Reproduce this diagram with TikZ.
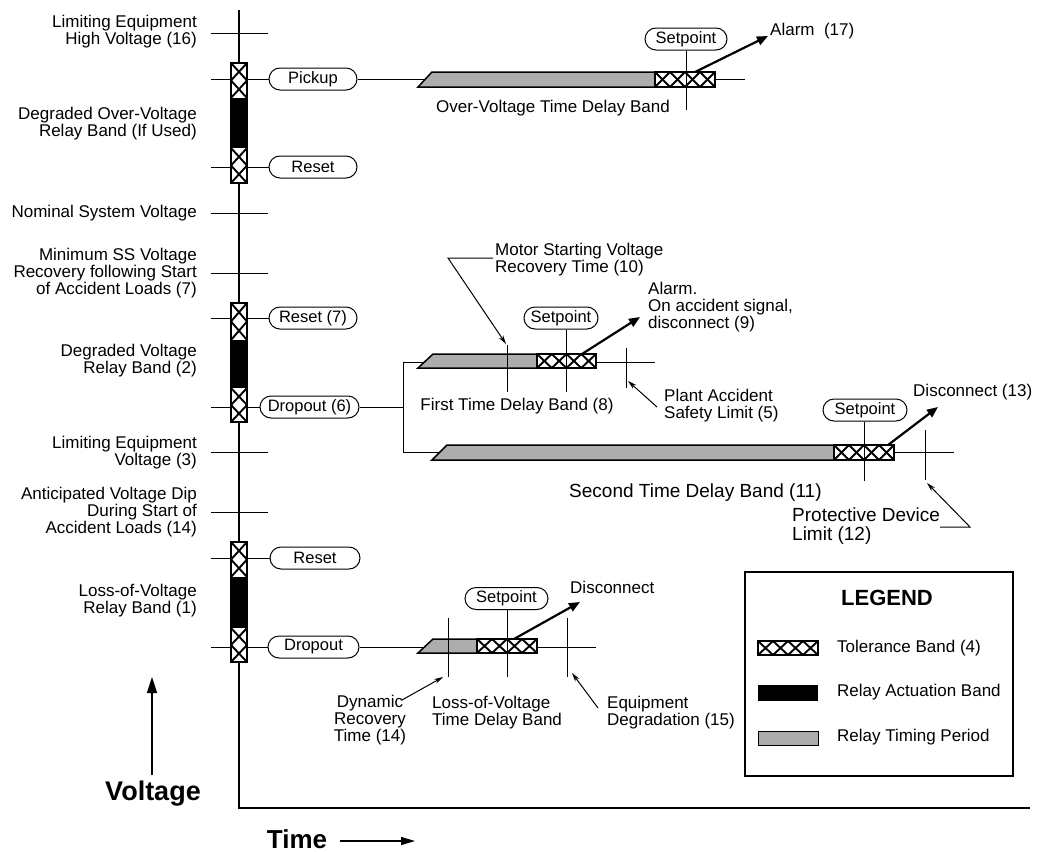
\documentclass[tikz,border=0pt]{standalone}
\usepackage{fontspec}
\setmainfont{Liberation Sans}
\usetikzlibrary{arrows.meta}
\newcommand\fs{\fontsize{17}{17}\selectfont}
\newcommand\fsb{\fontsize{19}{19}\selectfont}
\newcommand\fsp{\fontsize{16.5}{16.5}\selectfont}
% horizontal cross-hatch box: x0 y0 x1 y1 ncells
\newcommand\hxbox[5]{%
  \fill[white] (#1,#2) rectangle (#3,#4);
  \pgfmathsetmacro\hbcw{(#3-#1)/#5}
  \foreach \k in {1,...,#5}{%
    \draw[hatchline] ({#1+(\k-1)*\hbcw},#2) -- ({#1+\k*\hbcw},#4);
    \draw[hatchline] ({#1+(\k-1)*\hbcw},#4) -- ({#1+\k*\hbcw},#2);}
  \draw[barline] (#1,#2) rectangle (#3,#4);}
% vertical cross-hatch: x0 y0 x1 y1 ncells along y
\newcommand\vxbox[5]{%
  \fill[white] (#1,#2) rectangle (#3,#4);
  \pgfmathsetmacro\hbch{(#4-#2)/#5}
  \foreach \k in {1,...,#5}{%
    \draw[hatchline] (#1,{#2+(\k-1)*\hbch}) -- (#3,{#2+\k*\hbch});
    \draw[hatchline] (#3,{#2+(\k-1)*\hbch}) -- (#1,{#2+\k*\hbch});}}
\begin{document}
\begin{tikzpicture}[x=1pt,y=-1pt,
  hatchline/.style={line width=1.9pt},
  barline/.style={line width=1.5pt},
  thin/.style={line width=1pt},
  pill/.style={draw,line width=1pt,rounded corners=11pt,minimum height=22pt,inner xsep=6pt,inner ysep=0pt,font=\fsp},
  lbl/.style={align=right,anchor=east,inner sep=0pt,font=\fs},
  txt/.style={align=left,anchor=west,inner sep=0pt,font=\fs},
  bigarrow/.style={line width=2.2pt,-{Triangle[length=11pt,width=9pt]}},
  leader/.style={line width=1pt,-{Stealth[length=9pt,width=5pt]}},
  timing/.style={fill=black!32,draw=black,line width=1.5pt}]
\useasboundingbox (0,0) rectangle (1037,852);

% axes
\coordinate (atop) at (239,10);
\coordinate (aorg) at (239,808);
\coordinate (aend) at (1030,808);
\draw[line width=2pt] (atop) -- (aorg) -- (aend);

% axis ticks
\foreach \yy in {33,213,273,452,512}{\draw[thin] (211,\yy) -- (268,\yy);}

% left labels
\node[lbl] (l16) at (197,32) {Limiting Equipment\\High Voltage (16)};
\node[lbl] (lov) at (197,124) {Degraded Over-Voltage\\Relay Band (If Used)};
\node[lbl] (lnom) at (197,213) {Nominal System Voltage};
\node[lbl] (l7) at (197,273) {Minimum SS Voltage\\Recovery following Start\\of Accident Loads (7)};
\node[lbl] (l2) at (197,361) {Degraded Voltage\\Relay Band (2)};
\node[lbl] (l3) at (197,453) {Limiting Equipment\\Voltage (3)};
\node[lbl] (l14) at (197,512) {Anticipated Voltage Dip\\During Start of\\Accident Loads (14)};
\node[lbl] (l1) at (197,601) {Loss-of-Voltage\\Relay Band (1)};

% pills at the axis
\node[pill,minimum width=88pt] (pick) at (313,79) {Pickup};
\node[pill,minimum width=88pt] (res1) at (313,167) {Reset};
\node[pill,minimum width=88pt] (res7) at (313,318) {Reset (7)};
\node[pill,minimum width=99pt] (drop6) at (309.5,407) {Dropout (6)};
\node[pill,minimum width=90pt] (res2) at (315,558) {Reset};
\node[pill,minimum width=91pt] (drop) at (313.5,647) {Dropout};

% level lines into pills
\draw[thin] (211,79) -- (pick.west);
\draw[thin] (211,167) -- (res1.west);
\draw[thin] (211,318) -- (res7.west);
\draw[thin] (211,407) -- (drop6.west);
\draw[thin] (211,558) -- (res2.west);
\draw[thin] (211,647) -- (drop.west);

% vertical relay bands
\vxbox{231}{63}{247}{98}{2}
\fill (231,98) rectangle (247,148);
\vxbox{231}{148}{247}{183}{2}
\draw[barline] (231,63) rectangle (247,183);

\vxbox{231}{303}{247}{340}{2}
\fill (231,340) rectangle (247,388);
\vxbox{231}{388}{247}{422}{2}
\draw[barline] (231,303) rectangle (247,422);

\vxbox{231}{542}{247}{577}{2}
\fill (231,577) rectangle (247,628);
\vxbox{231}{628}{247}{662}{2}
\draw[barline] (231,542) rectangle (247,662);

% ---------- over-voltage bar ----------
\coordinate (ovend) at (745,79);
\draw[thin] (pick.east) -- (ovend);
\draw[timing] (418,87) -- (432,72) -- (655,72) -- (655,87) -- cycle;
\hxbox{655}{72}{715}{87}{4}
\node[pill,minimum width=82pt] (sp0) at (686,39) {Setpoint};
\draw[thin] (sp0.south) -- (686,110);
\node[inner sep=0pt,font=\fs] (ovt) at (553,108) {Over-Voltage Time Delay Band};
\coordinate (a0s) at (695,72);
\node[txt] (alarm17) at (770,31) {Alarm\ \ (17)};
\draw[bigarrow] (a0s) -- (768,36);

% ---------- degraded voltage bars ----------
\coordinate (j1) at (403,407);
\coordinate (j1t) at (403,362);
\coordinate (j1b) at (403,452);
\draw[thin] (drop6.east) -- (j1);
\draw[thin] (j1t) -- (j1b);
\draw[thin] (j1t) -- (655,362);
\draw[thin] (j1b) -- (954,452);

\draw[timing] (418,368) -- (433,354) -- (537,354) -- (537,368) -- cycle;
\hxbox{537}{354}{596}{368}{4}
\draw[thin] (507,345) -- (507,392);
\node[pill,minimum width=74pt] (sp1) at (561,318) {Setpoint};
\draw[thin] (sp1.south -| 566,0) -- (566,392);
\draw[thin] (626,348) -- (626,388);
\draw[bigarrow] (582,354) -- (640,317);
\node[txt] (alarm9) at (648,307) {Alarm.\\On accident signal,\\disconnect (9)};
\node[inner sep=0pt,font=\fs] (ftd) at (517,406) {First Time Delay Band (8)};
\node[txt] (plant) at (664,406) {Plant Accident\\Safety Limit (5)};
\draw[leader] (657,407) -- (628,381);
\node[txt] (motor) at (495,260) {Motor Starting Voltage\\Recovery Time (10)};
\draw[leader] (493,258) -- (448,258) -- (506,344);

\draw[timing] (432,460) -- (447,445) -- (834,445) -- (834,460) -- cycle;
\hxbox{834}{445}{894}{460}{4}
\node[pill,minimum width=84pt] (sp2) at (865,410) {Setpoint};
\draw[thin] (sp2.south -| 864,0) -- (864,481);
\draw[thin] (925,430) -- (925,480);
\draw[bigarrow] (888,445) -- (938,407);
\node[txt] (disc13) at (913,392) {Disconnect (13)};
\node[inner sep=0pt,anchor=west,font=\fsb] (std) at (569,493) {Second Time Delay Band (11)};
\node[txt,font=\fsb] (prot) at (792,526) {Protective Device\\Limit (12)};
\draw[leader] (940,527) -- (970,527) -- (927,483);

% ---------- loss-of-voltage bar ----------
\draw[thin] (drop.east) -- (596,647);
\draw[timing] (418,653) -- (433,639) -- (477,639) -- (477,653) -- cycle;
\hxbox{477}{639}{537}{653}{4}
\draw[thin] (448,618) -- (448,677);
\node[pill,minimum width=83pt] (sp3) at (506.5,598.5) {Setpoint};
\draw[thin] (sp3.south -| 507,0) -- (507,677);
\draw[thin] (567,618) -- (567,677);
\draw[bigarrow] (514,639) -- (580,602);
\node[txt] (disc) at (570,587) {Disconnect};
\node[align=center,inner sep=0pt,font=\fs] (dyn) at (370,720) {Dynamic\\Recovery\\Time (14)};
\draw[leader] (402,700) -- (443,677);
\node[txt] (lovt) at (432,713) {Loss-of-Voltage\\Time Delay Band};
\node[txt] (eqd) at (607,713) {Equipment\\Degradation (15)};
\draw[leader] (598,708) -- (572,673);

% ---------- legend ----------
\node[draw,line width=1.5pt,minimum width=268pt,minimum height=204pt,inner sep=0pt] (legend) at (879,674) {};
\node[font=\fontsize{22}{22}\selectfont\bfseries,inner sep=0pt] (legt) at (887,598) {LEGEND};
\hxbox{758}{641}{818}{655}{4}
\node[txt] (lg1) at (837,648) {Tolerance Band (4)};
\fill (758,685) rectangle (818,701);
\node[txt] (lg2) at (837,692) {Relay Actuation Band};
\fill[black!32] (758,731) rectangle (818,745);
\draw[thin] (758,731) rectangle (818,745);
\node[txt] (lg3) at (837,737) {Relay Timing Period};

% ---------- axis titles ----------
\node[font=\fontsize{27}{27}\selectfont\bfseries,inner sep=0pt] (volt) at (153,794) {Voltage};
\coordinate (vb) at (152,775);
\coordinate (vt) at (152,677);
\draw[line width=1.5pt,-{Triangle[length=16pt,width=10pt]}] (vb) -- (vt);
\node[font=\fontsize{26}{26}\selectfont\bfseries,inner sep=0pt] (time) at (297,839) {Time};
\coordinate (tb) at (340,841);
\coordinate (te) at (415,841);
\draw[line width=1.2pt,-{Triangle[length=14pt,width=8pt]}] (tb) -- (te);
\end{tikzpicture}
\end{document}
